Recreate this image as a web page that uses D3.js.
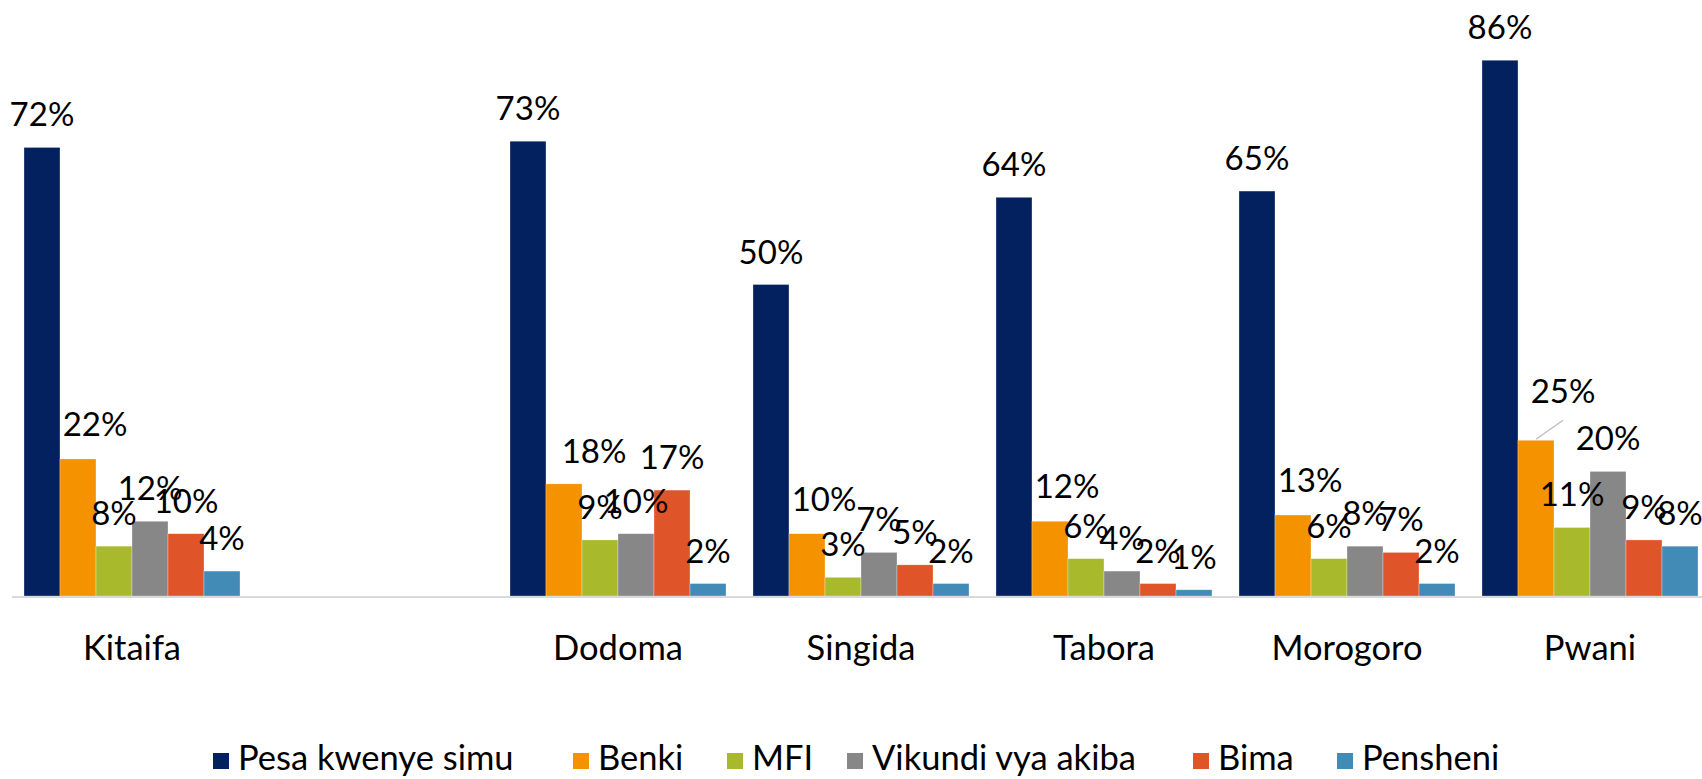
<html>
<head>
<style>
  body { margin: 0; background: #fff; }
  text { font-family: Lato, "Liberation Sans", sans-serif; fill: #000; }
</style>
<script src="https://d3js.org/d3.v7.min.js"></script>
</head>
<body>
<script>
  var width = 1702, height = 779;

  // regions (the blank slot is an empty gap in the original chart)
  var regions = ["Kitaifa", " ", "Dodoma", "Singida", "Tabora", "Morogoro", "Pwani"];
  var seriesNames = ["Pesa kwenye simu", "Benki", "MFI", "Vikundi vya akiba", "Bima", "Pensheni"];
  var seriesColors = ["#03215f", "#f59200", "#a8ba2c", "#878787", "#e0542a", "#428bb6"];

  // values in percent, one per region
  var pesaSimu = [72, null, 73, 50, 64, 65, 86];
  var benki    = [22, null, 18, 10, 12, 13, 25];
  var mfi      = [8,  null, 9,  3,  6,  6,  11];
  var vikundi  = [12, null, 10, 7,  4,  8,  20];
  var bima     = [10, null, 17, 5,  2,  7,  9];
  var pensheni = [4,  null, 2,  2,  1,  2,  8];
  var allSeries = [pesaSimu, benki, mfi, vikundi, bima, pensheni];

  // label nudges (dx, dy) for the crowded labels
  var labelNudge = {
    "Benki": [17, -2],
    "Dodoma|Benki": [30, 0],
    "Pwani|Benki": [27, -16]
  };

  var svg = d3.select("body").append("svg")
    .attr("width", width)
    .attr("height", height);

  var baseY = 596;
  var y = d3.scaleLinear().domain([0, 100]).range([baseY, baseY - 623]);

  var x0 = d3.scaleBand()
    .domain(regions)
    .range([10.5, 1711.5])
    .paddingInner(0.111)
    .paddingOuter(0.0555);

  var x1 = d3.scaleBand()
    .domain(seriesNames)
    .range([0, x0.bandwidth()]);

  var rows = [];
  regions.forEach(function(r, i) {
    seriesNames.forEach(function(s, j) {
      var v = allSeries[j][i];
      if (v != null) rows.push({ region: r, series: s, idx: j, value: v });
    });
  });

  // bars
  svg.append("g").selectAll("rect")
    .data(rows)
    .enter().append("rect")
    .attr("x", d => x0(d.region) + x1(d.series))
    .attr("y", d => y(d.value))
    .attr("width", x1.bandwidth())
    .attr("height", d => baseY - y(d.value))
    .attr("fill", d => seriesColors[d.idx])
    .attr("stroke", "#ffffff")
    .attr("stroke-opacity", 0.5)
    .attr("stroke-width", 0.6);

  // axis line
  svg.append("line")
    .attr("x1", 12).attr("x2", width)
    .attr("y1", baseY + 1).attr("y2", baseY + 1)
    .attr("stroke", "#d9d9d9")
    .attr("stroke-width", 2);

  function nudge(d) {
    return labelNudge[d.region + "|" + d.series] || labelNudge[d.series] || [0, 0];
  }

  // leader line for the Pwani Benki label
  rows.filter(d => d.region === "Pwani" && d.series === "Benki").forEach(function(d) {
    var cx = x0(d.region) + x1(d.series) + x1.bandwidth() / 2;
    svg.append("line")
      .attr("x1", cx).attr("y1", y(d.value) - 1)
      .attr("x2", cx + 27).attr("y2", y(d.value) - 20)
      .attr("stroke", "#bfbfbf")
      .attr("stroke-width", 1.5);
  });

  // value labels
  svg.append("g").selectAll("text")
    .data(rows)
    .enter().append("text")
    .attr("x", d => x0(d.region) + x1(d.series) + x1.bandwidth() / 2 + nudge(d)[0])
    .attr("y", d => y(d.value) - 21 + nudge(d)[1])
    .attr("text-anchor", "middle")
    .style("font-size", "33px")
    .text(d => d.value + "%");

  // category labels
  svg.append("g").selectAll("text")
    .data(regions)
    .enter().append("text")
    .attr("x", d => x0(d) + x0.bandwidth() / 2)
    .attr("y", 660)
    .attr("text-anchor", "middle")
    .style("font-size", "34.5px")
    .text(d => d.trim());

  // legend
  var legendX = [213, 573, 727, 847, 1193, 1337];
  var legend = svg.append("g").selectAll("g")
    .data(seriesNames)
    .enter().append("g")
    .attr("transform", (d, i) => "translate(" + legendX[i] + ",0)");
  legend.append("rect")
    .attr("x", 0).attr("y", 753)
    .attr("width", 16).attr("height", 16)
    .attr("fill", (d, i) => seriesColors[i]);
  legend.append("text")
    .attr("x", 25).attr("y", 770)
    .style("font-size", "34.5px")
    .text(d => d);
</script>
</body>
</html>
